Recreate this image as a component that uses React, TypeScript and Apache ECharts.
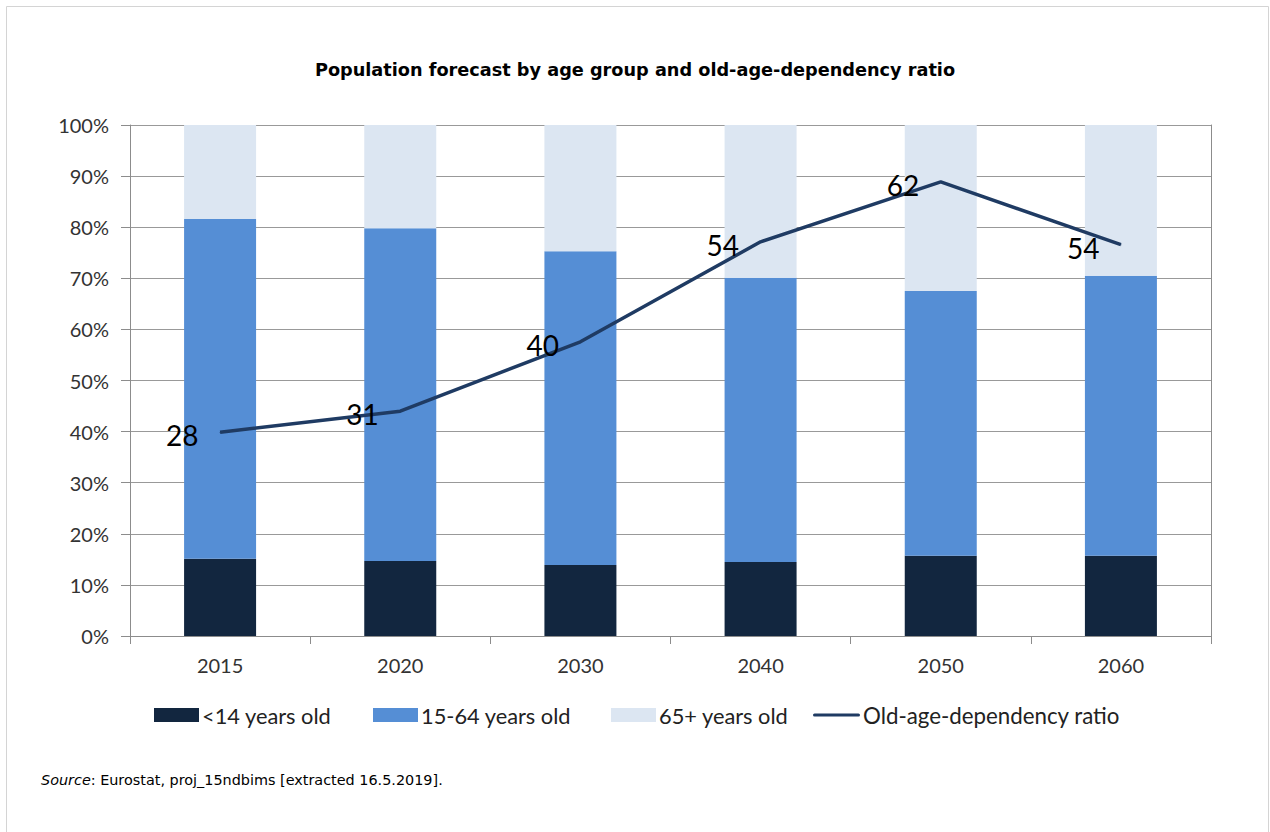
import React, { useEffect, useRef } from "react";
import * as echarts from "echarts";

const years = ["2015", "2020", "2030", "2040", "2050", "2060"];
const under14 = [15.1, 14.7, 13.9, 14.5, 15.7, 15.7];
const age15to64 = [66.5, 65.1, 61.4, 55.6, 51.8, 54.8];
const age65plus = [18.4, 20.2, 24.7, 29.9, 32.5, 29.5];
const dependencyRatio = [27.9, 30.8, 40.3, 54.0, 62.2, 53.6];
const yTicks = [0, 10, 20, 30, 40, 50, 60, 70, 80, 90, 100];

const names = ["<14 years old", "15-64 years old", "65+ years old", "Old-age-dependency ratio"];
const colors = ["#12263F", "#558ED5", "#DCE6F2", "#1F3B63"];

const FONT = "Lato";

export default function App() {
  const ref = useRef<HTMLDivElement>(null);
  useEffect(() => {
    if (!ref.current) return;
    const chart = echarts.init(ref.current, null, { renderer: "svg" });
    const legendLefts = [154, 373, 611, 813];
    const linePath = "path://M1.5,0 H43.5 A1.5,1.5 0 0 1 43.5,3 H1.5 A1.5,1.5 0 0 1 1.5,0 Z";
    chart.setOption({
      animation: false,
      backgroundColor: "transparent",
      title: {
        text: "Population forecast by age group and old-age-dependency ratio",
        left: "center",
        top: 61,
        padding: 0,
        textStyle: { fontFamily: "DejaVu Sans", fontWeight: "bold", fontSize: 17.7, color: "#000" },
      },
      legend: names.map((n, i) => ({
        data: [i === 3 ? { name: n, icon: linePath } : { name: n, icon: "rect" }],
        left: legendLefts[i],
        top: 704,
        padding: 0,
        itemWidth: i === 3 ? 47 : 45,
        itemHeight: 14,
        itemGap: 0,
        textStyle: { fontFamily: FONT, fontSize: i === 3 ? 22.3 : 21.8, color: "#222", padding: [0, 0, 0, -2] },
        selectedMode: false,
      })),
      grid: { left: 130, right: 59, top: 125, bottom: 196, containLabel: false },
      xAxis: {
        type: "category",
        data: years,
        boundaryGap: true,
        axisLine: { show: true, lineStyle: { color: "#8c8c8c", width: 1 } },
        axisTick: { show: true, length: 8, lineStyle: { color: "#8c8c8c" } },
        axisLabel: { fontFamily: FONT, fontSize: 20, color: "#333", margin: 19 },
        splitLine: { show: false },
      },
      yAxis: [
        {
          type: "value",
          min: yTicks[0],
          max: yTicks[yTicks.length - 1],
          interval: 10,
          axisLine: { show: true, lineStyle: { color: "#8c8c8c", width: 1 } },
          axisTick: { show: true, length: 9, lineStyle: { color: "#8c8c8c" } },
          axisLabel: { fontFamily: FONT, fontSize: 20, color: "#333", margin: 21, formatter: "{value}%" },
          splitLine: { show: true, lineStyle: { color: "#999999", width: 1 } },
        },
        {
          type: "value",
          min: 0,
          max: 70,
          position: "right",
          axisLine: { show: true, lineStyle: { color: "#8c8c8c", width: 1 } },
          axisTick: { show: false },
          axisLabel: { show: false },
          splitLine: { show: false },
        },
      ],
      series: [
        { name: names[0], type: "bar", stack: "pop", data: under14, barWidth: 72, itemStyle: { color: colors[0] } },
        { name: names[1], type: "bar", stack: "pop", data: age15to64, barWidth: 72, itemStyle: { color: colors[1] } },
        { name: names[2], type: "bar", stack: "pop", data: age65plus, barWidth: 72, itemStyle: { color: colors[2] } },
        {
          name: names[3],
          type: "line",
          yAxisIndex: 1,
          data: dependencyRatio,
          symbol: "circle",
          symbolSize: 1,
          itemStyle: { color: colors[3] },
          lineStyle: { color: colors[3], width: 3.5 },
          label: {
            show: true,
            position: "left",
            distance: 21,
            offset: [0, 3],
            fontFamily: FONT,
            fontSize: 28,
            color: "#000",
            formatter: (p: any) => String(Math.round(p.value)),
          },
          z: 10,
        },
      ],
      graphic: [
        {
          type: "rect",
          shape: { x: 6.5, y: 6.5, width: 1262, height: 826 },
          style: { fill: "none", stroke: "#d4d4d4", lineWidth: 1 },
          silent: true,
        },
        {
          type: "text",
          left: 41,
          top: 773,
          style: {
            text: "{i|Source}: Eurostat, proj_15ndbims [extracted 16.5.2019].",
            fontFamily: "DejaVu Sans",
            fontSize: 14.4,
            fill: "#000",
            rich: { i: { fontStyle: "italic", fontFamily: "DejaVu Sans", fontSize: 14.4 } },
          },
        },
      ],
    });
    return () => chart.dispose();
  }, []);
  return (
    <div style={{ position: "fixed", left: 0, top: 0, width: 1270, height: 832, background: "#fff" }}>
      <div ref={ref} style={{ width: 1270, height: 832 }} />
    </div>
  );
}
